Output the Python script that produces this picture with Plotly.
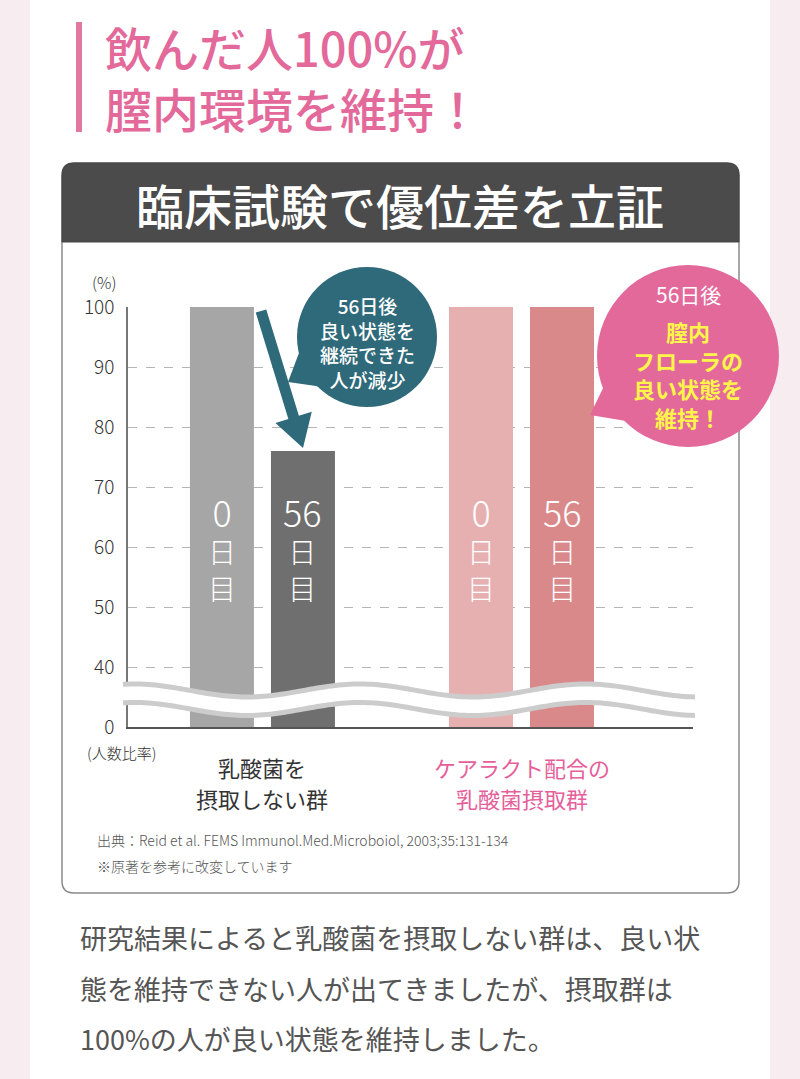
import numpy as np
import plotly.graph_objects as go

# data
groups = ["乳酸菌を摂取しない群", "ケアラクト配合の乳酸菌摂取群"]
group_lines = [["乳酸菌を", "摂取しない群"], ["ケアラクト配合の", "乳酸菌摂取群"]]
day0 = [100, 100]
day56 = [76, 100]
day_labels = ["0", "56"]
day0_colors = ["#a6a6a6", "#e6b0b1"]
day56_colors = ["#6f6f6f", "#da898b"]
tick_vals = [30, 40, 50, 60, 70, 80, 90, 100]
tick_text = ["0", "40", "50", "60", "70", "80", "90", "100"]

W, H = 800, 1079
FONT = "Noto Sans CJK JP"
PINK = "#e3699b"
TEAL = "#2f6a7a"


def X(p):
    return p / W


def Y(p):
    return 1 - p / H


def path(points, close=True):
    s = "M " + " L ".join(f"{X(a):.5f},{Y(b):.5f}" for a, b in points)
    return s + (" Z" if close else "")


def rounded_rect(x0, y0, x1, y1, r, top=True, bottom=True):
    rt = r if top else 0
    rb = r if bottom else 0
    def p(a, b):
        return f"{X(a):.5f},{Y(b):.5f}"
    return (f"M {p(x0 + rt, y0)} L {p(x1 - rt, y0)} Q {p(x1, y0)} {p(x1, y0 + rt)} "
            f"L {p(x1, y1 - rb)} Q {p(x1, y1)} {p(x1 - rb, y1)} "
            f"L {p(x0 + rb, y1)} Q {p(x0, y1)} {p(x0, y1 - rb)} "
            f"L {p(x0, y0 + rt)} Q {p(x0, y0)} {p(x0 + rt, y0)} Z")


fig = go.Figure()
fig.add_trace(go.Bar(x=groups, y=day0, marker=dict(color=day0_colors, line_width=0), name="0日目"))
fig.add_trace(go.Bar(x=groups, y=day56, marker=dict(color=day56_colors, line_width=0), name="56日目"))

shapes = []
# white page column
shapes.append(dict(type="rect", xref="paper", yref="paper", x0=X(30), x1=X(770), y0=0, y1=1,
                   fillcolor="white", line_width=0, layer="below"))
# chart box
shapes.append(dict(type="path", xref="paper", yref="paper", path=rounded_rect(62, 163, 739, 893, 12),
                   fillcolor="white", line=dict(color="#8a8a8a", width=1.5), layer="below"))
shapes.append(dict(type="path", xref="paper", yref="paper",
                   path=rounded_rect(62, 163, 739, 242, 12, bottom=False),
                   fillcolor="#4b4b4b", line=dict(color="#444444", width=1), layer="below"))
# title bar
shapes.append(dict(type="rect", xref="paper", yref="paper", x0=X(76), x1=X(82), y0=Y(132), y1=Y(22),
                   fillcolor="#e2779f", line_width=0, layer="below"))

# wavy axis break
wx = np.linspace(123, 695, 160)
wu = 690.5 - 6.5 * np.cos(2 * np.pi * (wx - 360) / 226)
wl = wu + 18.5
band = list(zip(wx, wu)) + list(zip(wx[::-1], wl[::-1]))
shapes.append(dict(type="path", xref="paper", yref="paper", path=path(band),
                   fillcolor="white", line_width=0, layer="above"))
for yy in (wu, wl):
    shapes.append(dict(type="path", xref="paper", yref="paper", path=path(list(zip(wx, yy)), close=False),
                       line=dict(color="#cccccc", width=5), layer="above"))

# arrow
start, tip = np.array([261.0, 311.0]), np.array([303.0, 448.0])
d = (tip - start) / np.linalg.norm(tip - start)
n = np.array([d[1], -d[0]])
base = tip - d * 32
sw, hw = 5.5, 19
arrow = [start + n * sw, base + n * sw, base + n * hw, tip, base - n * hw, base - n * sw, start - n * sw]
shapes.append(dict(type="path", xref="paper", yref="paper", path=path([tuple(p) for p in arrow]),
                   fillcolor=TEAL, line_width=0, layer="above"))

# teal bubble
cx, cy, r = 367, 337, 70
shapes.append(dict(type="circle", xref="paper", yref="paper", x0=X(cx - r), x1=X(cx + r),
                   y0=Y(cy + r), y1=Y(cy - r), fillcolor=TEAL, line_width=0, layer="above"))
shapes.append(dict(type="path", xref="paper", yref="paper", path=path([(288, 382), (302, 345), (330, 388)]),
                   fillcolor=TEAL, line_width=0, layer="above"))

# pink bubble
cx, cy, r = 688, 356, 91
shapes.append(dict(type="circle", xref="paper", yref="paper", x0=X(cx - r), x1=X(cx + r),
                   y0=Y(cy + r), y1=Y(cy - r), fillcolor=PINK, line_width=0, layer="above"))
shapes.append(dict(type="path", xref="paper", yref="paper", path=path([(590, 415), (608, 378), (632, 422)]),
                   fillcolor=PINK, line_width=0, layer="above"))

ann = []


def text(x, y, t, size, color="#333333", weight=400, xanchor="center", xref="paper", xshift=0):
    ann.append(dict(x=x if xref != "paper" else X(x), y=Y(y), xref=xref, yref="paper", text=t,
                    showarrow=False, xanchor=xanchor, yanchor="middle", xshift=xshift,
                    font=dict(family=FONT, size=size, color=color, weight=weight)))


text(103, 47, "飲んだ人100%が", 47, PINK, 500, "left")
text(103, 108, "膣内環境を維持！", 47, PINK, 500, "left")
text(400, 204, "臨床試験で優位差を立証", 48, "white", 500)

text(104, 282, "(%)", 16, "#333333", 300)
text(121, 752, "(人数比率)", 15, "#333333", 300)

# labels inside the bars
for shift, lab in ((-40.5, day_labels[0]), (40.5, day_labels[1])):
    for g in groups:
        text(g, 546, f"<span style='font-size:36px'>{lab}</span><br>日<br>目", 28, "white", 300,
             xref="x", xshift=shift)

# group names
for g, lines, col in zip(groups, group_lines, ["#333333", "#e5609a"]):
    text(g, 767, lines[0], 22, col, 400, xref="x")
    text(g, 798, lines[1], 22, col, 400, xref="x")

text(95, 840, "出典：Reid et al. FEMS Immunol.Med.Microboiol, 2003;35:131-134", 14, "#555555", 300, "left")
text(95, 866, "※原著を参考に改変しています", 14, "#555555", 300, "left")

text(367, 342, "56日後<br>良い状態を<br>継続できた<br>人が減少", 19, "white", 500)
text(688, 294, "56日後", 21, "white", 400)
text(688, 374, "膣内<br>フローラの<br>良い状態を<br>維持！", 22, "#fff44a", 700)

text(78, 937, "研究結果によると乳酸菌を摂取しない群は、良い状", 27, "#555555", 400, "left")
text(78, 988, "態を維持できない人が出てきましたが、摂取群は", 27, "#555555", 400, "left")
text(78, 1038, "100%の人が良い状態を維持しました。", 27, "#555555", 400, "left")

fig.update_layout(
    width=W, height=H,
    margin=dict(l=0, r=0, t=0, b=0, autoexpand=False),
    paper_bgcolor="#f7edf1",
    plot_bgcolor="rgba(0,0,0,0)",
    showlegend=False,
    barmode="group",
    bargap=0.3746,
    bargroupgap=0.21,
    shapes=shapes,
    annotations=ann,
    xaxis=dict(domain=[X(128), X(693)], range=[-0.519, 1.662], showticklabels=False, automargin=False,
               showline=True, linecolor="#555555", linewidth=1.5, showgrid=False, ticks=""),
    yaxis=dict(domain=[Y(727), Y(307)], range=[30, 100], tickvals=tick_vals, ticktext=tick_text,
               automargin=False,
               showline=True, linecolor="#777777", linewidth=1.5, ticks="",
               showgrid=True, gridcolor="#b5b5b5", griddash="dash", gridwidth=1, zeroline=False,
               ticklabelstandoff=8,
               tickfont=dict(family=FONT, size=19, color="#333333", weight=300)),
    font=dict(family=FONT),
)

# page body has a default 8px margin; drop it so the figure sits at the window corner
fig.write_html("out.html", config={"displayModeBar": False},
               post_script="document.body.style.margin='0px';")
